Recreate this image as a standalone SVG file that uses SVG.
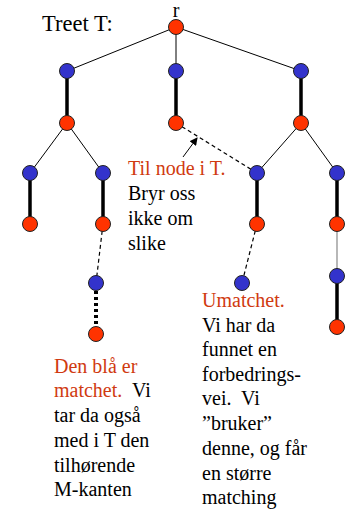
<svg xmlns="http://www.w3.org/2000/svg" width="347" height="511" viewBox="0 0 347 511">
<style>
text{font-family:"Liberation Serif","Times New Roman","DejaVu Serif",serif;font-size:20px;fill:#000}
.rt{fill:#D03A10}
.thin{stroke:#000;stroke-width:1;fill:none}
.thick{stroke:#000;stroke-width:3.5;fill:none}
.dash{stroke:#000;stroke-width:1.2;stroke-dasharray:4,3;fill:none}
.dot{stroke:#000;stroke-width:4;stroke-dasharray:3,3;fill:none}
.gray{stroke:#888;stroke-width:1.2;fill:none}
.r{fill:#FF3300;stroke:#222;stroke-width:1}
.b{fill:#3333CC;stroke:#222;stroke-width:1}
</style>
<defs>
<marker id="ah" markerWidth="8" markerHeight="8" refX="7" refY="4" orient="auto" markerUnits="userSpaceOnUse">
<path d="M0,0 L8,4 L0,8 z" fill="#000"/>
</marker>
</defs>
<rect width="347" height="511" fill="#fff"/>
<g id="connectors">
<line class="thin" x1="176" y1="27" x2="67" y2="71"/>
<line class="thin" x1="176" y1="27" x2="176" y2="71"/>
<line class="thin" x1="176" y1="27" x2="301" y2="71"/>
<line class="thick" x1="67" y1="71" x2="67" y2="123"/>
<line class="thick" x1="176" y1="71" x2="176" y2="123"/>
<line class="thick" x1="301" y1="71" x2="301" y2="123"/>
<line class="thin" x1="67" y1="123" x2="30" y2="173"/>
<line class="thin" x1="67" y1="123" x2="103" y2="173"/>
<line class="thin" x1="301" y1="123" x2="257" y2="173"/>
<line class="thin" x1="301" y1="123" x2="337" y2="173"/>
<line class="thick" x1="30" y1="173" x2="30" y2="224"/>
<line class="thick" x1="103" y1="173" x2="103" y2="224"/>
<line class="thick" x1="257" y1="173" x2="257" y2="224"/>
<line class="thick" x1="337" y1="173" x2="337" y2="224"/>
<line class="dash" x1="176" y1="123" x2="257" y2="173"/>
<line class="dash" x1="103" y1="224" x2="96" y2="283"/>
<line class="dash" x1="257" y1="224" x2="242" y2="283"/>
<line class="dot" x1="96" y1="291" x2="96" y2="328"/>
<line class="gray" x1="337" y1="224" x2="337" y2="276"/>
<line class="thick" x1="337" y1="276" x2="337" y2="327"/>
<line class="thin" x1="183" y1="157" x2="197" y2="138" marker-end="url(#ah)"/>
</g>
<g id="n_root"><circle class="r" cx="176" cy="27" r="7.5"/></g>
<g id="n_b1"><circle class="b" cx="67" cy="71" r="7.5"/></g>
<g id="n_b2"><circle class="b" cx="176" cy="71" r="7.5"/></g>
<g id="n_b3"><circle class="b" cx="301" cy="71" r="7.5"/></g>
<g id="n_r1"><circle class="r" cx="67" cy="123" r="7.5"/></g>
<g id="n_r2"><circle class="r" cx="176" cy="123" r="7.5"/></g>
<g id="n_r3"><circle class="r" cx="301" cy="123" r="7.5"/></g>
<g id="n_b4"><circle class="b" cx="30" cy="173" r="7.5"/></g>
<g id="n_b5"><circle class="b" cx="103" cy="173" r="7.5"/></g>
<g id="n_b6"><circle class="b" cx="257" cy="173" r="7.5"/></g>
<g id="n_b7"><circle class="b" cx="337" cy="173" r="7.5"/></g>
<g id="n_r4"><circle class="r" cx="30" cy="224" r="7.5"/></g>
<g id="n_r5"><circle class="r" cx="103" cy="224" r="7.5"/></g>
<g id="n_r6"><circle class="r" cx="257" cy="224" r="7.5"/></g>
<g id="n_r7"><circle class="r" cx="337" cy="224" r="7.5"/></g>
<g id="n_b8"><circle class="b" cx="96" cy="283" r="7.5"/></g>
<g id="n_b9"><circle class="b" cx="242" cy="283" r="7.5"/></g>
<g id="n_b10"><circle class="b" cx="337" cy="276" r="7.5"/></g>
<g id="n_r8"><circle class="r" cx="96" cy="334" r="7.5"/></g>
<g id="n_r9"><circle class="r" cx="337" cy="327" r="7.5"/></g>
<g id="labels">
<text x="42" y="31" style="font-size:22.5px">Treet T:</text>
<text x="176" y="17" text-anchor="middle">r</text>
<text x="128" y="175" class="rt">Til node i T.</text>
<text x="128" y="200">Bryr oss</text>
<text x="128" y="225">ikke om</text>
<text x="128" y="250">slike</text>
<text x="202" y="307" class="rt">Umatchet.</text>
<text x="202" y="332">Vi har da</text>
<text x="202" y="356">funnet en</text>
<text x="202" y="381">forbedrings-</text>
<text x="202" y="405" xml:space="preserve">vei.  Vi</text>
<text x="202" y="430">”bruker”</text>
<text x="202" y="455">denne, og får</text>
<text x="202" y="480">en større</text>
<text x="202" y="504">matching</text>
<text x="54" y="373" class="rt">Den blå er</text>
<text x="54" y="397" xml:space="preserve"><tspan class="rt">matchet.</tspan>  Vi</text>
<text x="54" y="422">tar da også</text>
<text x="54" y="447">med i T den</text>
<text x="54" y="472">tilhørende</text>
<text x="54" y="496">M-kanten</text>
</g>
</svg>
